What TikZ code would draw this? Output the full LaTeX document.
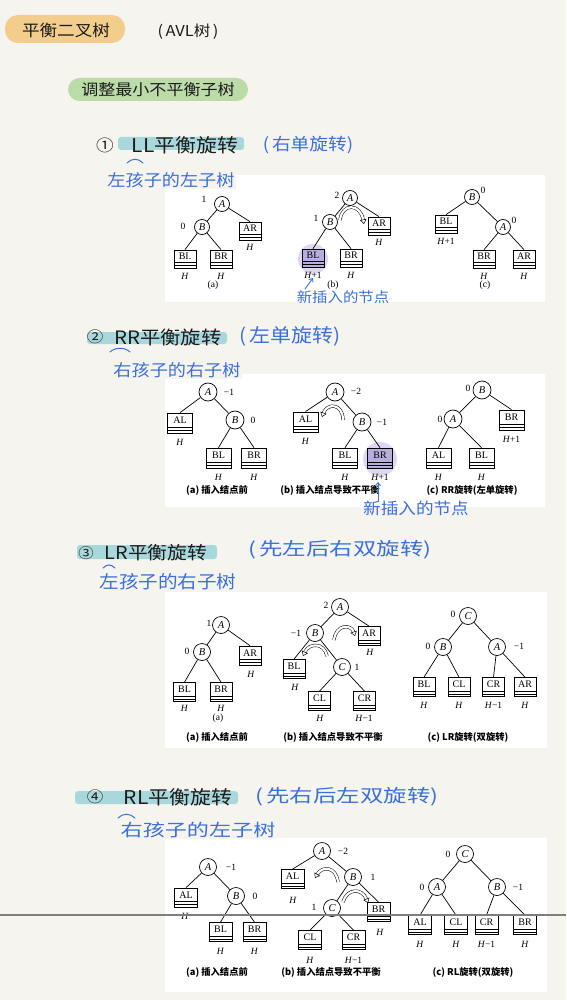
\documentclass[tikz,border=0pt]{standalone}
\usepackage{fontspec}
\setmainfont{Liberation Serif}
\newfontfamily\cjk{Noto Sans CJK SC}
\newfontfamily\hand[FakeStretch=1.1]{Noto Sans CJK SC}
\newfontfamily\handw[FakeStretch=1.3]{Noto Sans CJK SC}
\usetikzlibrary{arrows.meta}
\definecolor{paper}{HTML}{F6F4EF}
\definecolor{hblue}{HTML}{3A6FDC}
\definecolor{ink}{HTML}{1C1C1C}
\definecolor{orangepill}{HTML}{F2CD8C}
\definecolor{greenpill}{HTML}{BBDBA8}
\definecolor{tealhl}{HTML}{A9D8DC}
\definecolor{purp}{HTML}{B9AEDB}
\definecolor{glow}{HTML}{D6CCF0}
\definecolor{crease}{HTML}{7E7E7E}
\newcommand\hwf[1]{\hand\fontsize{#1}{#1}\selectfont}
\newcommand\hwwf[1]{\handw\fontsize{#1}{#1}\selectfont}
\newcommand\bxf{\fontsize{10}{10}\selectfont}
\tikzset{
 cn/.style={draw, circle, fill=white, line width=0.7pt, minimum size=16pt, inner sep=0pt, font=\fontsize{10.5}{10}\selectfont\itshape},
 tb/.style={draw, line width=0.7pt, fill=white, inner sep=0pt, minimum width=22pt, minimum height=18pt,
   path picture={
     \draw[line width=0.6pt] ([yshift=5.5pt]path picture bounding box.south west) -- ([yshift=5.5pt]path picture bounding box.south east);
     \draw[line width=0.6pt] ([yshift=2.7pt]path picture bounding box.south west) -- ([yshift=2.7pt]path picture bounding box.south east);},
   label={[font=\bxf, inner sep=0pt, yshift=2.8pt]center:#1}},
 bf/.style={font=\fontsize{9.5}{10}\selectfont, inner sep=0pt},
 hl/.style={font=\fontsize{9.5}{10}\selectfont, inner sep=0pt},
 capt/.style={font=\cjk\fontsize{9.3}{10}\selectfont\bfseries, inner sep=0pt},
 ed/.style={line width=0.7pt},
 rot/.style={line width=0.5pt, double=white, double distance=2.2pt, -{Triangle[open, length=4.5pt, width=6.5pt]}},
 hwb/.style={inner sep=1pt, text=hblue},
 hwk/.style={inner sep=1pt, text=ink},
 tilde/.style={hblue, line width=1pt, line cap=round},
 barrow/.style={hblue, line width=0.9pt, line cap=round, -{Straight Barb[length=3pt,width=5pt]}},
}
\begin{document}
\begin{tikzpicture}[x=1pt,y=-1pt]
\fill[paper] (0,0) rectangle (566,1000);
\useasboundingbox (0,0) rectangle (566,1000);

% panels
\fill[white] (165,175) rectangle (545,302);
\fill[white] (165,374) rectangle (545,507);
\fill[white] (165,592) rectangle (547,748);
\fill[white] (165,838) rectangle (547,992);

% header
\fill[orangepill, rounded corners=13pt] (5,15) rectangle (125,43);
\node[hwk, font=\hwf{16}] (title) at (66,30) {平衡二叉树};
\node[hwk, font=\hwf{15}] (avl) at (188,32) {(\,AVL树\,)};
\fill[greenpill, rounded corners=11.5pt] (68,78) rectangle (248,101);
\node[hwk, font=\hwf{15.5}] (subtitle) at (158,90) {调整最小不平衡子树};

% section 1 header
\fill[tealhl, rounded corners=3pt] (118,137) rectangle (244,150);
\node[hwk, font=\hwf{16}] (s1num) at (105,145) {①};
\node[hwk, font=\hwf{19}] (s1title) at (185,145) {LL平衡旋转};
\node[hwb, font=\hwf{17}] (s1rot) at (308,145) {(\,右单旋转)};
\draw[tilde] (127,163) .. controls (132,158) and (138,158) .. (143,163);
\node[hwb, font=\hwf{16.5}, fill=paper] (s1sub) at (171,180) {左孩子的左子树};

% section 2 header
\fill[tealhl, rounded corners=3pt] (87,332) rectangle (227,344);
\node[hwk, font=\hwf{15}] (s2num) at (95,337) {②};
\node[hwk, font=\hwf{18.5}] (s2title) at (168,337) {RR平衡旋转};
\node[hwb, font=\hwf{19}] (s2rot) at (290,336) {(\,左单旋转)};
\draw[tilde] (110,352) .. controls (115,347) and (125,347) .. (130,352);
\node[hwb, font=\hwf{16.5}, fill=paper] (s2sub) at (177,370) {右孩子的右子树};

% section 3 header
\fill[tealhl, rounded corners=3pt] (77,545) rectangle (217,559);
\node[hwk, font=\hwf{14}] (s3num) at (86,553) {③};
\node[hwk, font=\hwf{18}] (s3title) at (156,553) {LR平衡旋转};
\node[hwb, font=\hwwf{18}] (s3rot) at (340,550) {(\,先左后右双旋转)};
\draw[tilde] (103,568) .. controls (107,564) and (111,564) .. (115,568);
\node[hwb, font=\hwf{17.8}, fill=paper] (s3sub) at (168,582) {左孩子的右子树};

% section 4 header
\fill[tealhl, rounded corners=3pt] (75,791) rectangle (238,804);
\node[hwk, font=\hwf{15}] (s4num) at (95,797) {④};
\node[hwk, font=\hwf{19}] (s4title) at (178,797) {RL平衡旋转};
\node[hwb, font=\hwwf{18}] (s4rot) at (347,797) {(\,先右后左双旋转)};
\draw[tilde] (118,818) .. controls (123,813) and (130,813) .. (135,818);
\node[hwb, font=\hwwf{17}, fill=paper] (s4sub) at (198,830) {右孩子的左子树};

%================ Section 1 diagrams
\begin{scope}[cn/.append style={minimum size=15pt}, tb/.append style={minimum width=22pt, minimum height=18pt}]
% (a)
\node[cn] (s1a-A) at (222,204) {A};
\node[bf] (s1a-fA) at (204,199) {1};
\node[cn] (s1a-B) at (202,227) {B};
\node[bf] (s1a-fB) at (183,226) {0};
\node[tb=AR] (s1a-AR) at (250,231) {};
\node[hl] (s1a-hAR) at (250,247) {\textit{H}};
\node[tb=BI.] (s1a-BL) at (185,259) {};
\node[hl] (s1a-hBL) at (185,276) {\textit{H}};
\node[tb=BR] (s1a-BR) at (221,259) {};
\node[hl] (s1a-hBR) at (221,276) {\textit{H}};
\node[bf] (s1a-cap) at (213,285) {(a)};
\draw[ed] (s1a-A) -- (s1a-B);
\draw[ed] (s1a-A) -- (s1a-AR.north);
\draw[ed] (s1a-B) -- (s1a-BL.north);
\draw[ed] (s1a-B) -- (s1a-BR.north);
% (b)
\fill[glow, opacity=0.8] (313,259) circle (15pt);
\node[cn] (s1b-A) at (350,198) {A};
\node[bf] (s1b-fA) at (337,195) {2};
\node[cn] (s1b-B) at (330,222) {B};
\node[bf] (s1b-fB) at (316,218) {1};
\node[tb=AR] (s1b-AR) at (379,226) {};
\node[hl] (s1b-hAR) at (379,242) {\textit{H}};
\node[tb=BL, fill=purp] (s1b-BL) at (313,258) {};
\node[hl] (s1b-hBL) at (313,275) {\textit{H}+1};
\node[tb=BR] (s1b-BR) at (351,258) {};
\node[hl] (s1b-hBR) at (351,275) {\textit{H}};
\node[bf] (s1b-cap) at (333,285) {(b)};
\draw[ed] (s1b-A) -- (s1b-B);
\draw[ed] (s1b-A) -- (s1b-AR.north);
\draw[ed] (s1b-B) -- (s1b-BL.north);
\draw[ed] (s1b-B) -- (s1b-BR.north);
\coordinate (s1b-rs) at (340,220);
\coordinate (s1b-re) at (364,224);
\draw[rot] (s1b-rs) .. controls (342,203) and (360,203) .. (s1b-re);
% (c)
\node[cn] (s1c-B) at (472,197) {B};
\node[bf] (s1c-fB) at (483,190) {0};
\node[tb=BL] (s1c-BL) at (446,224) {};
\node[hl] (s1c-hBL) at (446,241) {\textit{H}+1};
\node[cn] (s1c-A) at (503,227) {A};
\node[bf] (s1c-fA) at (514,220) {0};
\node[tb=BR] (s1c-BR) at (484,259) {};
\node[hl] (s1c-hBR) at (484,276) {\textit{H}};
\node[tb=AR] (s1c-AR) at (524,259) {};
\node[hl] (s1c-hAR) at (524,276) {\textit{H}};
\node[bf] (s1c-cap) at (485,285) {(c)};
\draw[ed] (s1c-B) -- (s1c-BL.north);
\draw[ed] (s1c-B) -- (s1c-A);
\draw[ed] (s1c-A) -- (s1c-BR.north);
\draw[ed] (s1c-A) -- (s1c-AR.north);
\end{scope}
\node[hwb, font=\hwf{14}] (s1new) at (343,297) {新插入的节点};
\coordinate (s1arS) at (305,289);
\coordinate (s1arE) at (313,278);
\draw[barrow] (s1arS) -- (s1arE);

%================ Section 2 diagrams
\begin{scope}[cn/.append style={minimum size=18pt}, tb/.append style={minimum width=25pt, minimum height=20pt}]
% (a)
\node[cn] (s2a-A) at (208,392) {A};
\node[bf] (s2a-fA) at (229,392) {−1};
\node[tb=AL] (s2a-AL) at (180,423) {};
\node[hl] (s2a-hAL) at (180,442) {\textit{H}};
\node[cn] (s2a-B) at (235,420) {B};
\node[bf] (s2a-fB) at (253,420) {0};
\node[tb=BL] (s2a-BL) at (218.5,458) {};
\node[hl] (s2a-hBL) at (218.5,477) {\textit{H}};
\node[tb=BR] (s2a-BR) at (254,458) {};
\node[hl] (s2a-hBR) at (254,477) {\textit{H}};
\node[capt] (s2a-cap) at (217,490) {(a) 插入结点前};
\draw[ed] (s2a-A) -- (s2a-AL.north);
\draw[ed] (s2a-A) -- (s2a-B);
\draw[ed] (s2a-B) -- (s2a-BL.north);
\draw[ed] (s2a-B) -- (s2a-BR.north);
% (b)
\fill[glow, opacity=0.8] (380,459) circle (17pt);
\node[cn] (s2b-A) at (335,392) {A};
\node[bf] (s2b-fA) at (356,391) {−2};
\node[tb=AL] (s2b-AL) at (305.5,422) {};
\node[hl] (s2b-hAL) at (305.5,441) {\textit{H}};
\node[cn] (s2b-B) at (362,422) {B};
\node[bf] (s2b-fB) at (382,422) {−1};
\node[tb=BL] (s2b-BL) at (345,458) {};
\node[hl] (s2b-hBL) at (345,477) {\textit{H}};
\node[tb=BR, fill=purp] (s2b-BR) at (380,458) {};
\node[hl] (s2b-hBR) at (380,477) {\textit{H}+1};
\node[capt] (s2b-cap) at (330,490) {(b) 插入结点导致不平衡};
\draw[ed] (s2b-A) -- (s2b-AL.north);
\draw[ed] (s2b-A) -- (s2b-B);
\draw[ed] (s2b-B) -- (s2b-BL.north);
\draw[ed] (s2b-B) -- (s2b-BR.north);
\coordinate (s2b-rs) at (343,420);
\coordinate (s2b-re) at (322,417);
\draw[rot] (s2b-rs) .. controls (343,403) and (327,403) .. (s2b-re);
% (c)
\node[cn] (s2c-B) at (482,390) {B};
\node[bf] (s2c-fB) at (468,388) {0};
\node[cn] (s2c-A) at (453,419) {A};
\node[bf] (s2c-fA) at (440,419) {0};
\node[tb=BR] (s2c-BR) at (511.5,420) {};
\node[hl] (s2c-hBR) at (511.5,439) {\textit{H}+1};
\node[tb=AL] (s2c-AL) at (438.5,458) {};
\node[hl] (s2c-hAL) at (438.5,477) {\textit{H}};
\node[tb=BL] (s2c-BL) at (481.5,458) {};
\node[hl] (s2c-hBL) at (481.5,477) {\textit{H}};
\node[capt] (s2c-cap) at (472,490) {(c) RR旋转(左单旋转)};
\draw[ed] (s2c-B) -- (s2c-A);
\draw[ed] (s2c-B) -- (s2c-BR.north);
\draw[ed] (s2c-A) -- (s2c-AL.north);
\draw[ed] (s2c-A) -- (s2c-BL.north);
\end{scope}
\coordinate (s2arS) at (378,501);
\coordinate (s2arE) at (378,482);
\draw[barrow] (s2arS) -- (s2arE);
\node[hwb, font=\hwf{16}] (s2new) at (416,508) {新插入的节点};

%================ Section 3 diagrams
\begin{scope}[cn/.append style={minimum size=17pt}, tb/.append style={minimum width=22pt, minimum height=19pt}]
% (a)
\node[cn] (s3a-A) at (221,625) {A};
\node[bf] (s3a-fA) at (209,623) {1};
\node[cn] (s3a-B) at (202,652) {B};
\node[bf] (s3a-fB) at (187,651) {0};
\node[tb=AR] (s3a-AR) at (250,655.5) {};
\node[hl] (s3a-hAR) at (251,674) {\textit{H}};
\node[tb=BL] (s3a-BL) at (184.5,692) {};
\node[hl] (s3a-hBL) at (184.5,708) {\textit{H}};
\node[tb=BR] (s3a-BR) at (221,692) {};
\node[hl] (s3a-hBR) at (221,708) {\textit{H}};
\node[bf] (s3a-sub) at (218,718) {(a)};
\node[capt] (s3a-cap) at (217,737) {(a) 插入结点前};
\draw[ed] (s3a-A) -- (s3a-B);
\draw[ed] (s3a-A) -- (s3a-AR.north);
\draw[ed] (s3a-B) -- (s3a-BL.north);
\draw[ed] (s3a-B) -- (s3a-BR.north);
% (b)
\node[cn] (s3b-A) at (340,607) {A};
\node[bf] (s3b-fA) at (326,605) {2};
\node[cn] (s3b-B) at (315,633) {B};
\node[bf] (s3b-fB) at (296,633) {−1};
\node[tb=AR] (s3b-AR) at (369,636) {};
\node[hl] (s3b-hAR) at (370,652) {\textit{H}};
\node[tb=BL] (s3b-BL) at (294,669) {};
\node[hl] (s3b-hBL) at (295,687) {\textit{H}};
\node[cn] (s3b-C) at (342,667) {C};
\node[bf] (s3b-fC) at (357,667) {1};
\node[tb=CL] (s3b-CL) at (319.5,701) {};
\node[hl] (s3b-hCL) at (320,718) {\textit{H}};
\node[tb=CR] (s3b-CR) at (364.5,701) {};
\node[hl] (s3b-hCR) at (364,718) {\textit{H}−1};
\node[capt] (s3b-cap) at (333,737) {(b) 插入结点导致不平衡};
\draw[ed] (s3b-A) -- (s3b-B);
\draw[ed] (s3b-A) -- (s3b-AR.north);
\draw[ed] (s3b-B) -- (s3b-BL.north);
\draw[ed] (s3b-B) -- (s3b-C);
\draw[ed] (s3b-C) -- (s3b-CL.north);
\draw[ed] (s3b-C) -- (s3b-CR.north);
\coordinate (s3b-r1s) at (334,640);
\coordinate (s3b-r1e) at (355,636);
\draw[rot] (s3b-r1s) .. controls (336,624) and (351,624) .. (s3b-r1e);
\coordinate (s3b-r2s) at (327,656);
\coordinate (s3b-r2e) at (303,656);
\draw[rot] (s3b-r2s) .. controls (324,642) and (309,643) .. (s3b-r2e);
% (c)
\node[cn] (s3c-C) at (468,616) {C};
\node[bf] (s3c-fC) at (453,614) {0};
\node[cn] (s3c-B) at (443,647) {B};
\node[bf] (s3c-fB) at (428,646) {0};
\node[cn] (s3c-A) at (497,647) {A};
\node[bf] (s3c-fA) at (519,646) {−1};
\node[tb=BL] (s3c-BL) at (424,687) {};
\node[hl] (s3c-hBL) at (424,705) {\textit{H}};
\node[tb=CL] (s3c-CL) at (459,687) {};
\node[hl] (s3c-hCL) at (459,705) {\textit{H}};
\node[tb=CR] (s3c-CR) at (493.5,687) {};
\node[hl] (s3c-hCR) at (493.5,705) {\textit{H}−1};
\node[tb=AR] (s3c-AR) at (525,687) {};
\node[hl] (s3c-hAR) at (525,705) {\textit{H}};
\node[capt] (s3c-cap) at (468,737) {(c) LR旋转(双旋转)};
\draw[ed] (s3c-C) -- (s3c-B);
\draw[ed] (s3c-C) -- (s3c-A);
\draw[ed] (s3c-B) -- (s3c-BL.north);
\draw[ed] (s3c-B) -- (s3c-CL.north);
\draw[ed] (s3c-A) -- (s3c-CR.north);
\draw[ed] (s3c-A) -- (s3c-AR.north);
\end{scope}

%================ Section 4 diagrams
\begin{scope}[cn/.append style={minimum size=17pt}, tb/.append style={minimum width=23pt, minimum height=19pt}]
% (a)
\node[cn] (s4a-A) at (208,867) {A};
\node[bf] (s4a-fA) at (231,867) {−1};
\node[tb=AL] (s4a-AL) at (186,897.5) {};
\node[hl] (s4a-hAL) at (185,916) {\textit{H}};
\node[cn] (s4a-B) at (236,896) {B};
\node[bf] (s4a-fB) at (255,896) {0};
\node[tb=BL] (s4a-BL) at (220.5,932) {};
\node[hl] (s4a-hBL) at (220.5,951) {\textit{H}};
\node[tb=BR] (s4a-BR) at (254.5,932) {};
\node[hl] (s4a-hBR) at (254.5,951) {\textit{H}};
\node[capt] (s4a-cap) at (217,972) {(a) 插入结点前};
\draw[ed] (s4a-A) -- (s4a-AL.north);
\draw[ed] (s4a-A) -- (s4a-B);
\draw[ed] (s4a-B) -- (s4a-BL.north);
\draw[ed] (s4a-B) -- (s4a-BR.north);
% (b)
\node[cn] (s4b-A) at (322,851) {A};
\node[bf] (s4b-fA) at (343,851) {−2};
\node[tb=AL] (s4b-AL) at (292.5,879) {};
\node[hl] (s4b-hAL) at (293,900) {\textit{H}};
\node[cn] (s4b-B) at (353,877) {B};
\node[bf] (s4b-fB) at (373,877) {1};
\node[cn] (s4b-C) at (332,908) {C};
\node[bf] (s4b-fC) at (314,907) {1};
\node[tb=BR] (s4b-BR) at (378.5,912) {};
\node[hl] (s4b-hBR) at (380,932) {\textit{H}};
\node[tb=CL] (s4b-CL) at (310,940) {};
\node[hl] (s4b-hCL) at (310,960) {\textit{H}};
\node[tb=CR] (s4b-CR) at (353.5,940) {};
\node[hl] (s4b-hCR) at (353.5,960) {\textit{H}−1};
\node[capt] (s4b-cap) at (331,972) {(b) 插入结点导致不平衡};
\draw[ed] (s4b-A) -- (s4b-AL.north);
\draw[ed] (s4b-A) -- (s4b-B);
\draw[ed] (s4b-B) -- (s4b-C);
\draw[ed] (s4b-B) -- (s4b-BR.north);
\draw[ed] (s4b-C) -- (s4b-CL.north);
\draw[ed] (s4b-C) -- (s4b-CR.north);
\coordinate (s4b-r1s) at (338,882);
\coordinate (s4b-r1e) at (315,878);
\draw[rot] (s4b-r1s) .. controls (336,866) and (322,866) .. (s4b-r1e);
\coordinate (s4b-r2s) at (343,902);
\coordinate (s4b-r2e) at (368,903);
\draw[rot] (s4b-r2s) .. controls (347,888) and (362,888) .. (s4b-r2e);
% (c)
\node[cn] (s4c-C) at (465,854) {C};
\node[bf] (s4c-fC) at (448,854) {0};
\node[cn] (s4c-A) at (437,887) {A};
\node[bf] (s4c-fA) at (422,887) {0};
\node[cn] (s4c-B) at (497,887) {B};
\node[bf] (s4c-fB) at (518,887) {−1};
\node[tb=AL] (s4c-AL) at (420,925) {};
\node[hl] (s4c-hAL) at (420,944) {\textit{H}};
\node[tb=CL] (s4c-CL) at (456,925) {};
\node[hl] (s4c-hCL) at (456,944) {\textit{H}};
\node[tb=CR] (s4c-CR) at (486.5,925) {};
\node[hl] (s4c-hCR) at (486.5,944) {\textit{H}−1};
\node[tb=BR] (s4c-BR) at (525,925) {};
\node[hl] (s4c-hBR) at (525,944) {\textit{H}};
\node[capt] (s4c-cap) at (473,972) {(c) RL旋转(双旋转)};
\draw[ed] (s4c-C) -- (s4c-A);
\draw[ed] (s4c-C) -- (s4c-B);
\draw[ed] (s4c-A) -- (s4c-AL.north);
\draw[ed] (s4c-A) -- (s4c-CL.north);
\draw[ed] (s4c-B) -- (s4c-CR.north);
\draw[ed] (s4c-B) -- (s4c-BR.north);
\end{scope}

% crease line
\fill[crease] (0,914) rectangle (566,916);
\end{tikzpicture}
\end{document}
